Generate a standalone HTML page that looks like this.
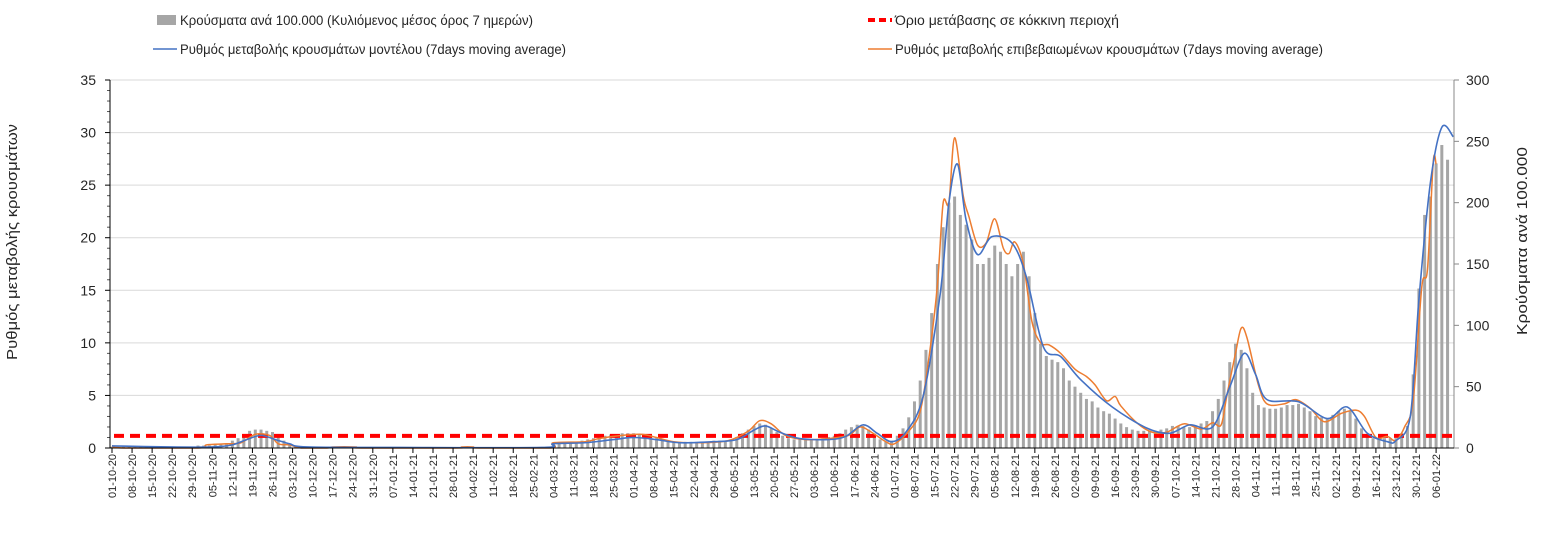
<!DOCTYPE html>
<html><head><meta charset="utf-8">
<style>
body{margin:0;background:#fff;}
svg text{font-family:"Liberation Sans","DejaVu Sans",sans-serif;fill:#262626;}
</style></head>
<body>
<svg id="chart" width="1547" height="533" xmlns="http://www.w3.org/2000/svg">
  <g>
    <g>
      <rect x="157" y="15" width="19" height="10" fill="#a6a6a6"/>
      <text x="180" y="25" font-size="13.5" textLength="353" lengthAdjust="spacingAndGlyphs">Κρούσματα ανά 100.000 (Κυλιόμενος μέσος όρος 7 ημερών)</text>
    </g>
    <g>
      <line x1="868" y1="20" x2="892" y2="20" stroke="#ff0000" stroke-width="4" stroke-dasharray="7,4"/>
      <text x="895" y="25" font-size="13.5" textLength="224" lengthAdjust="spacingAndGlyphs">Όριο μετάβασης σε κόκκινη περιοχή</text>
    </g>
    <g>
      <line x1="153" y1="49" x2="177" y2="49" stroke="#4472c4" stroke-width="1.6"/>
      <text x="180" y="54" font-size="13.5" textLength="386" lengthAdjust="spacingAndGlyphs">Ρυθμός μεταβολής κρουσμάτων μοντέλου (7days moving average)</text>
    </g>
    <g>
      <line x1="868" y1="49" x2="892" y2="49" stroke="#ed7d31" stroke-width="1.6"/>
      <text x="895" y="54" font-size="13.5" textLength="428" lengthAdjust="spacingAndGlyphs">Ρυθμός μεταβολής επιβεβαιωμένων κρουσμάτων (7days moving average)</text>
    </g>
  </g>
  <text transform="translate(17,242) rotate(-90)" text-anchor="middle" font-size="14.5" textLength="236" lengthAdjust="spacingAndGlyphs">Ρυθμός μεταβολής κρουσμάτων</text>
  <text transform="translate(1527,241) rotate(-90)" text-anchor="middle" font-size="14.5" textLength="188" lengthAdjust="spacingAndGlyphs">Κρούσματα ανά 100.000</text>
  <g id="grid"></g>
  <g id="bars"></g>
  <g id="lines"></g>
  <g id="axes"></g>
</svg>
<script>
const leftTicks=[0,5,10,15,20,25,30,35];
const rightTicks=[0,50,100,150,200,250,300];
const threshold=1.15;
const blueDays=[0,20,35,42,47,52,57,62,68,100,150,154,165,175,182,190,198,210,218,224,228,233,240,250,256,262,267,272,277,283,289,292,295,298,302,307,314,319,325,331,338,349,361,369,376,384,390,395,399,403,414,424,431,438,445,448,453,456,460,464,468];
const blueVals=[0.2,0.1,0.1,0.3,0.8,1.2,0.8,0.4,0.1,0.05,0.05,0.4,0.5,0.8,1.0,0.8,0.5,0.6,0.8,1.7,2.1,1.5,0.9,0.8,1.1,2.2,1.4,0.6,1.5,4.9,14.7,23.3,27.0,21.7,18.4,20.1,19.5,16.3,9.6,8.7,6.5,3.9,1.9,1.4,2.2,2.0,5.8,9.0,7.0,4.6,4.4,2.8,3.9,1.4,0.6,0.7,3.0,14.1,25.2,30.5,29.6];
const orangeDays=[0,4,30,33,40,45,50,55,58,62,66,75,77,85,87,120,122,126,128,153,154,165,170,178,185,190,196,205,215,222,226,230,235,242,250,257,261,265,270,273,278,282,285,288,290,292,294,297,299,302,305,308,311,313,315,318,321,324,327,331,336,340,343,347,350,352,358,363,368,374,380,384,387,389,392,394,396,400,403,409,413,418,423,429,434,437,441,445,448,451,454,457,459,461,462];
const orangeVals=[0.2,0.0,0.0,0.3,0.4,0.5,1.3,1.2,0.4,0.3,0,0,0.1,0.1,0,0,0.1,0.1,0,0,0.5,0.6,0.9,1.2,1.3,1.0,0.6,0.5,0.7,1.6,2.6,2.3,1.2,0.8,0.9,1.2,2.0,1.5,0.6,0.4,1.6,3.5,8.5,15.5,23.3,23.3,29.5,24,22,19.3,19.5,21.8,19,18.5,19.6,17.5,12,10,9.8,9.0,7.5,6.8,6.0,4.5,4.9,4.0,2.3,1.5,1.5,2.3,1.8,2.4,2.2,5,9.0,11.4,10.5,6,4.2,4.2,4.6,3.8,2.5,3.3,3.6,3,1.0,1.1,0.7,2.0,4.5,15.3,17,27.2,27.0];
// bars: one value every 2 days starting day 0 (cases per 100k, right axis)
const barVals=[1,1,1,1,1,1,1,1,1,1,1,1,1,1,1,2,2,2,3,
3,4,6,8,11,14,15,15,14,13,10,6,
3,2,1,1,
0,0,0,0,0,0,0,0,0,0,0,0,0,0,0,0,0,0,0,0,0,0,0,0,0,0,0,0,0,0,0,0,0,0,0,0,0,0,0,0,0,
1,4,4,4,4,5,6,7,8,9,10,11,11,12,12,
12,11,10,9,8,7,6,5,5,5,
5,5,5,5,6,6,6,7,9,12,
15,18,20,19,16,13,10,8,7,7,
7,7,7,8,9,10,12,15,17,19,
18,15,11,7,5,6,10,16,25,38,
55,80,110,150,180,200,205,190,182,170,
150,150,155,165,160,150,140,150,160,140,
110,85,75,72,70,65,55,50,45,40,
38,33,30,28,24,20,17,15,14,14,
14,14,15,16,18,18,17,17,18,20,
22,30,40,55,70,85,80,65,45,35,
33,32,32,33,35,35,36,33,30,26,
25,24,27,30,32,30,24,16,10,8,
8,8,8,8,12,18,60,130,190,205,
232,247,235];
const barStep=2;
const totalDays=469;

const NS='http://www.w3.org/2000/svg';
const X0=112, DX=2.866, Y0=448, YTOP=80, XL=110, XR=1454;
const xS=d=>X0+d*DX;
const yL=v=>Y0-v/35*(Y0-YTOP);
const yR=v=>Y0-v/300*(Y0-YTOP);
function mk(tag,attrs,parent){const e=document.createElementNS(NS,tag);for(const k in attrs)e.setAttribute(k,attrs[k]);parent.appendChild(e);return e;}
const grid=document.getElementById('grid'),axes=document.getElementById('axes'),bars=document.getElementById('bars'),lines=document.getElementById('lines');

leftTicks.forEach(t=>{
  if(t>0){const g=mk('line',{x1:XL,x2:XR,y1:yL(t),y2:yL(t),stroke:'#d9d9d9','stroke-width':1},grid);
  
  }
  const tx=mk('text',{x:96,y:yL(t)+5,'text-anchor':'end','font-size':14},axes);
  tx.textContent=t;
  
  
  mk('line',{x1:XL-5,x2:XL,y1:yL(t),y2:yL(t),stroke:'#000'},axes);
});
for(let v=1;v<35;v++){if(v%5)mk('line',{x1:XL-3,x2:XL,y1:yL(v),y2:yL(v),stroke:'#555'},axes);}
rightTicks.forEach(t=>{
  const tx=mk('text',{x:1466,y:yR(t)+5,'font-size':14},axes);
  tx.textContent=t;
  
  
  mk('line',{x1:XR,x2:XR+5,y1:yR(t),y2:yR(t),stroke:'#888'},axes);
});

barVals.forEach((v,i)=>{
  const d=i*barStep;
  const r=mk('rect',{x:xS(d)-1.5,y:yR(v),width:3,height:Math.max(0,Y0-yR(v)),fill:'#a6a6a6'},bars);
  
  
});

const th=mk('line',{x1:XL+4,x2:XR,y1:yL(threshold),y2:yL(threshold),stroke:'#ff0000','stroke-width':4,'stroke-dasharray':'10,6'},lines);



function smoothPath(days,vals){
  const p=days.map((d,i)=>[xS(d),yL(vals[i])]);
  let s='M'+p[0][0]+','+p[0][1];
  for(let i=0;i<p.length-1;i++){
    const p0=p[Math.max(0,i-1)],p1=p[i],p2=p[i+1],p3=p[Math.min(p.length-1,i+2)];
    const t=0.16;
    let c1y=p1[1]+(p2[1]-p0[1])*t, c2y=p2[1]-(p3[1]-p1[1])*t;
    c1y=Math.min(Y0,c1y);c2y=Math.min(Y0,c2y);
    s+=` C${p1[0]+(p2[0]-p0[0])*t},${c1y} ${p2[0]-(p3[0]-p1[0])*t},${c2y} ${p2[0]},${p2[1]}`;
  }
  return s;
}
const ob=mk('path',{d:smoothPath(orangeDays,orangeVals),fill:'none',stroke:'#ed7d31','stroke-width':1.5},lines);


const bl=mk('path',{d:smoothPath(blueDays,blueVals),fill:'none',stroke:'#4472c4','stroke-width':1.6},lines);



mk('line',{x1:XL,x2:XL,y1:YTOP,y2:Y0,stroke:'#000'},axes);
mk('line',{x1:XR,x2:XR,y1:YTOP,y2:Y0,stroke:'#888'},axes);
mk('line',{x1:XL,x2:XR,y1:Y0,y2:Y0,stroke:'#000'},axes);

const start=new Date(Date.UTC(2020,9,1));
for(let d=0;d<totalDays;d+=7){
  const dt=new Date(start.getTime()+d*86400000);
  const lab=String(dt.getUTCDate()).padStart(2,'0')+'-'+String(dt.getUTCMonth()+1).padStart(2,'0')+'-'+String(dt.getUTCFullYear()%100);
  mk('line',{x1:xS(d),x2:xS(d),y1:Y0,y2:Y0+5,stroke:'#000'},axes);
  const tx=mk('text',{transform:`translate(${xS(d)+4},${Y0+6}) rotate(-90)`,'text-anchor':'end','font-size':11},axes);
  tx.textContent=lab;
  
  
}
</script>
</body></html>
